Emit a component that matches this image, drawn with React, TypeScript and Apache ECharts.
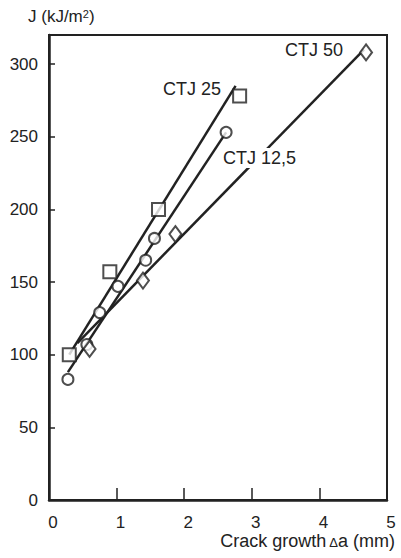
import React, { useEffect, useRef } from "react";
import * as echarts from "echarts";

// CTJ 25 (squares)
const ctj25X = [0.3, 0.9, 1.62, 2.82];
const ctj25Y = [100, 157, 200, 278];
const ctj25FitX = [0.3, 2.76];
const ctj25FitY = [100, 285];

// CTJ 12,5 (circles)
const ctj125X = [0.28, 0.56, 0.75, 1.02, 1.43, 1.56, 2.62];
const ctj125Y = [83, 107, 129, 147, 165, 180, 253];
const ctj125FitX = [0.28, 2.62];
const ctj125FitY = [88, 253];

// CTJ 50 (diamonds)
const ctj50X = [0.6, 1.39, 1.87, 4.69];
const ctj50Y = [104, 151, 183, 308];
const ctj50FitX = [0.42, 4.66];
const ctj50FitY = [108, 310];

const seriesNames = ["CTJ 25", "CTJ 12,5", "CTJ 50"];
const yAxisTitle = "J (kJ/m";
const xAxisTitle = "Crack growth";

const zip = (xs: number[], ys: number[]) => xs.map((x, i) => [x, ys[i]]);

const INK = "#222";
const FONT = "'Liberation Sans', Arial, Helvetica, sans-serif";

export default function App() {
  const ref = useRef<HTMLDivElement>(null);
  useEffect(() => {
    if (!ref.current) return;
    const chart = echarts.init(ref.current, undefined, { renderer: "svg" });
    const fitLine = (name: string, xs: number[], ys: number[]) => ({
      name,
      type: "line",
      data: zip(xs, ys),
      symbol: "none",
      lineStyle: { color: INK, width: 2.5 },
      z: 2,
      silent: true,
    });
    const marks = (name: string, xs: number[], ys: number[], symbol: string, size: any) => ({
      name,
      type: "scatter",
      data: zip(xs, ys),
      symbol,
      symbolSize: size,
      itemStyle: { color: "#fff", borderColor: INK, borderWidth: 2 },
      z: 3,
      silent: true,
    });
    chart.setOption({
      animation: false,
      backgroundColor: "#fff",
      textStyle: { fontFamily: FONT },
      grid: {
        left: 49,
        right: 14,
        top: 35,
        bottom: 58,
        show: true,
        borderColor: INK,
        borderWidth: 2,
        backgroundColor: "transparent",
      },
      xAxis: {
        type: "value",
        min: 0,
        max: 5,
        interval: 1,
        axisLine: { show: true, lineStyle: { color: INK, width: 2.5 } },
        axisTick: { show: true, inside: true, length: 12, lineStyle: { color: INK, width: 1.5 } },
        axisLabel: {
          color: INK,
          fontSize: 17,
          fontFamily: FONT,
          margin: 14,
          padding: [0, 0, 0, 8],
        },
        splitLine: { show: false },
      },
      yAxis: {
        type: "value",
        min: 0,
        max: 320,
        interval: 50,
        axisLine: { show: true, lineStyle: { color: INK, width: 2.5 } },
        axisTick: { show: true, inside: true, length: 6, lineStyle: { color: INK, width: 1.5 } },
        axisLabel: {
          color: INK,
          fontSize: 17,
          fontFamily: FONT,
          margin: 11,
          showMaxLabel: false,
        },
        splitLine: { show: false },
      },
      series: [
        fitLine(seriesNames[0], ctj25FitX, ctj25FitY),
        fitLine(seriesNames[1], ctj125FitX, ctj125FitY),
        fitLine(seriesNames[2], ctj50FitX, ctj50FitY),
        marks(seriesNames[0], ctj25X, ctj25Y, "rect", 13),
        marks(seriesNames[1], ctj125X, ctj125Y, "circle", 11),
        marks(seriesNames[2], ctj50X, ctj50Y, "diamond", [12, 16]),
      ],
      graphic: [
        {
          type: "text",
          left: 28,
          top: 8,
          z: 100,
          style: {
            text: "{a|" + yAxisTitle + "}{s|2}{a|)}",
            rich: {
              a: { fontSize: 17, fill: INK, fontFamily: FONT },
              s: { fontSize: 11, fill: INK, fontFamily: FONT, verticalAlign: "top", padding: [0, 0, 6, 0] },
            },
          },
        },
        {
          type: "text",
          right: 6,
          top: 532,
          z: 100,
          style: {
            text: "{a|" + xAxisTitle + "}{d|Δ}{a|a (mm)}",
            rich: {
              a: { fontSize: 18, fill: INK, fontFamily: FONT },
              d: { fontSize: 13, fill: INK, fontFamily: FONT, padding: [3, 0, 0, 3] },
            },
          },
        },
        {
          type: "text",
          left: 163,
          top: 80,
          z: 100,
          style: { text: seriesNames[0], fontSize: 18, fill: INK, fontFamily: FONT },
        },
        {
          type: "text",
          left: 221,
          top: 148,
          z: 100,
          style: {
            text: seriesNames[1],
            fontSize: 18,
            fill: INK,
            fontFamily: FONT,
            backgroundColor: "#fff",
            padding: [1, 2, 1, 2],
          },
        },
        {
          type: "text",
          left: 285,
          top: 41,
          z: 100,
          style: { text: seriesNames[2], fontSize: 18, fill: INK, fontFamily: FONT },
        },
      ],
    });
    return () => chart.dispose();
  }, []);
  return (
    <div
      ref={ref}
      style={{ position: "fixed", left: 0, top: 0, width: 401, height: 558, background: "#fff" }}
    />
  );
}
